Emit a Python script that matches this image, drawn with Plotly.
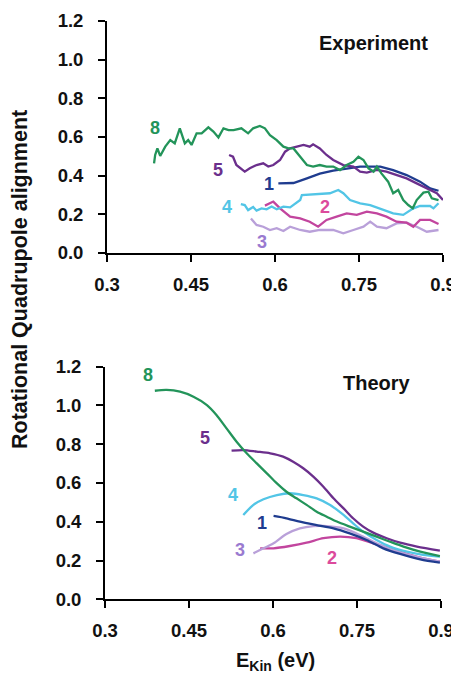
import plotly.graph_objects as go

# ---------------- Experiment data ----------------
exp8_x = [0.384, 0.386, 0.390, 0.395, 0.404, 0.413, 0.421, 0.430, 0.439, 0.445, 0.451, 0.460, 0.469, 0.481,
          0.490, 0.499, 0.508, 0.517, 0.526, 0.540, 0.552, 0.561, 0.573, 0.582, 0.591, 0.603, 0.615, 0.624,
          0.633, 0.645, 0.657, 0.668, 0.680, 0.692, 0.704, 0.716, 0.728, 0.740, 0.749, 0.758, 0.767, 0.776,
          0.782, 0.790, 0.802, 0.811, 0.820, 0.829, 0.838, 0.846, 0.853, 0.865, 0.874, 0.880, 0.892]
exp8_y = [0.464, 0.507, 0.541, 0.502, 0.550, 0.584, 0.567, 0.645, 0.567, 0.584, 0.559, 0.619, 0.619, 0.650,
          0.628, 0.598, 0.645, 0.636, 0.636, 0.645, 0.619, 0.645, 0.657, 0.645, 0.610, 0.584, 0.550, 0.541,
          0.541, 0.498, 0.455, 0.447, 0.455, 0.447, 0.447, 0.429, 0.455, 0.472, 0.498, 0.481, 0.438, 0.421,
          0.447, 0.412, 0.369, 0.309, 0.326, 0.274, 0.248, 0.231, 0.274, 0.312, 0.317, 0.283, 0.274]

exp5_x = [0.518, 0.525, 0.531, 0.546, 0.555, 0.567, 0.579, 0.588, 0.597, 0.609, 0.618, 0.627, 0.639, 0.651,
          0.662, 0.668, 0.680, 0.692, 0.704, 0.722, 0.740, 0.752, 0.764, 0.782, 0.799, 0.817, 0.835, 0.853,
          0.871, 0.889, 0.900]
exp5_y = [0.507, 0.498, 0.455, 0.421, 0.438, 0.455, 0.464, 0.447, 0.455, 0.481, 0.524, 0.541, 0.550, 0.559,
          0.550, 0.562, 0.541, 0.507, 0.481, 0.455, 0.447, 0.421, 0.416, 0.430, 0.421, 0.403, 0.386, 0.360,
          0.334, 0.309, 0.274]

exp1_x = [0.606, 0.633, 0.657, 0.680, 0.704, 0.728, 0.752, 0.788, 0.811, 0.835, 0.859, 0.877, 0.892]
exp1_y = [0.360, 0.362, 0.386, 0.410, 0.426, 0.438, 0.447, 0.447, 0.429, 0.403, 0.369, 0.334, 0.322]

exp4_x = [0.539, 0.546, 0.552, 0.561, 0.567, 0.576, 0.585, 0.594, 0.603, 0.615, 0.627, 0.636, 0.645, 0.648,
          0.662, 0.680, 0.698, 0.713, 0.722, 0.734, 0.752, 0.770, 0.793, 0.811, 0.829, 0.847, 0.859, 0.877,
          0.883, 0.892]
exp4_y = [0.253, 0.248, 0.222, 0.238, 0.219, 0.231, 0.226, 0.240, 0.226, 0.240, 0.236, 0.257, 0.274, 0.300,
          0.303, 0.303, 0.309, 0.326, 0.309, 0.274, 0.257, 0.248, 0.222, 0.205, 0.197, 0.231, 0.243, 0.243,
          0.231, 0.257]

exp2_x = [0.582, 0.597, 0.609, 0.627, 0.645, 0.662, 0.677, 0.692, 0.710, 0.728, 0.746, 0.764, 0.782, 0.799,
          0.817, 0.835, 0.847, 0.859, 0.877, 0.892]
exp2_y = [0.245, 0.266, 0.231, 0.188, 0.179, 0.162, 0.136, 0.171, 0.188, 0.205, 0.197, 0.214, 0.205, 0.188,
          0.162, 0.157, 0.136, 0.171, 0.171, 0.150]

exp3_x = [0.557, 0.567, 0.579, 0.591, 0.603, 0.615, 0.627, 0.645, 0.662, 0.680, 0.704, 0.722, 0.740, 0.758,
          0.770, 0.782, 0.799, 0.817, 0.835, 0.853, 0.871, 0.892]
exp3_y = [0.179, 0.145, 0.136, 0.119, 0.128, 0.114, 0.136, 0.119, 0.110, 0.119, 0.119, 0.102, 0.119, 0.136,
          0.162, 0.136, 0.128, 0.153, 0.157, 0.136, 0.110, 0.119]

# ---------------- Theory data ----------------
th8_x = [0.389, 0.410, 0.434, 0.458, 0.482, 0.499, 0.517, 0.535, 0.553, 0.571, 0.589, 0.607, 0.624, 0.642,
         0.660, 0.678, 0.696, 0.714, 0.737, 0.761, 0.785, 0.809, 0.833, 0.863, 0.898]
th8_y = [1.076, 1.080, 1.071, 1.045, 1.002, 0.951, 0.882, 0.813, 0.753, 0.701, 0.650, 0.598, 0.555, 0.521,
         0.487, 0.452, 0.426, 0.401, 0.375, 0.349, 0.323, 0.297, 0.272, 0.246, 0.223]

th5_x = [0.526, 0.547, 0.571, 0.595, 0.618, 0.636, 0.654, 0.672, 0.690, 0.708, 0.726, 0.743, 0.761, 0.779,
         0.803, 0.827, 0.857, 0.898]
th5_y = [0.767, 0.770, 0.762, 0.753, 0.736, 0.710, 0.676, 0.633, 0.581, 0.521, 0.469, 0.418, 0.375, 0.344,
         0.315, 0.292, 0.272, 0.251]

th4_x = [0.547, 0.565, 0.583, 0.607, 0.630, 0.654, 0.678, 0.702, 0.726, 0.743, 0.761, 0.785, 0.809, 0.839,
         0.868, 0.898]
th4_y = [0.435, 0.487, 0.516, 0.538, 0.547, 0.538, 0.521, 0.487, 0.435, 0.392, 0.349, 0.306, 0.272, 0.246,
         0.229, 0.220]

th1_x = [0.601, 0.624, 0.648, 0.678, 0.708, 0.737, 0.767, 0.797, 0.827, 0.863, 0.898]
th1_y = [0.430, 0.418, 0.401, 0.383, 0.366, 0.340, 0.306, 0.263, 0.234, 0.206, 0.189]

th3_x = [0.565, 0.583, 0.601, 0.624, 0.648, 0.672, 0.696, 0.726, 0.755, 0.785, 0.815, 0.851, 0.898]
th3_y = [0.237, 0.263, 0.289, 0.337, 0.366, 0.378, 0.378, 0.366, 0.332, 0.289, 0.254, 0.223, 0.194]

th2_x = [0.577, 0.601, 0.630, 0.660, 0.690, 0.720, 0.749, 0.779, 0.809, 0.839, 0.868, 0.898]
th2_y = [0.263, 0.263, 0.275, 0.292, 0.315, 0.323, 0.315, 0.289, 0.263, 0.234, 0.211, 0.194]

x_tickvals = [0.3, 0.45, 0.6, 0.75, 0.9]
x_ticktext = ["0.3", "0.45", "0.6", "0.75", "0.9"]
y_tickvals = [0.0, 0.2, 0.4, 0.6, 0.8, 1.0, 1.2]
y_ticktext = ["0.0", "0.2", "0.4", "0.6", "0.8", "1.0", "1.2"]

C_GREEN = "#23945a"
C_PURPLE = "#6b2f8c"
C_BLUE = "#1f3c8f"
C_CYAN = "#52c5e6"
C_MAGENTA = "#c2459e"
C_LAV = "#b9a0d9"
C_LAB2 = "#dc4a9c"
C_LAB3 = "#9a7ad0"

FONT = "Arial, 'Liberation Sans', sans-serif"

fig = go.Figure()

def add(x, y, color, xa, ya, smooth=False):
    fig.add_trace(go.Scatter(
        x=x, y=y, mode="lines", xaxis=xa, yaxis=ya, showlegend=False,
        line=dict(color=color, width=2.3, shape="spline" if smooth else "linear",
                  smoothing=0.8 if smooth else None),
        hoverinfo="skip"))

# experiment (draw back to front)
add(exp3_x, exp3_y, C_LAV, "x", "y")
add(exp2_x, exp2_y, C_MAGENTA, "x", "y")
add(exp4_x, exp4_y, C_CYAN, "x", "y")
add(exp1_x, exp1_y, C_BLUE, "x", "y")
add(exp5_x, exp5_y, C_PURPLE, "x", "y")
add(exp8_x, exp8_y, C_GREEN, "x", "y")

# theory
add(th2_x, th2_y, C_MAGENTA, "x2", "y2", True)
add(th3_x, th3_y, C_LAV, "x2", "y2", True)
add(th1_x, th1_y, C_BLUE, "x2", "y2", True)
add(th4_x, th4_y, C_CYAN, "x2", "y2", True)
add(th5_x, th5_y, C_PURPLE, "x2", "y2", True)
add(th8_x, th8_y, C_GREEN, "x2", "y2", True)

axis_common = dict(
    showgrid=False, zeroline=False, showline=True, linecolor="black", linewidth=1.8,
    ticks="outside", ticklen=7, tickwidth=1.8, tickcolor="black", automargin=False,
    tickfont=dict(family=FONT, size=18.5, color="#111", weight="bold"),
)

# page body has an 8px margin; figure is sized/positioned to compensate
OFF = 8
W, H = 459 - OFF, 675 - OFF

def px(xp):
    return (xp - OFF) / W

def py(yp):
    return (H - (yp - OFF)) / H

fig.update_layout(
    width=W, height=H, margin=dict(l=0, r=0, t=0, b=0),
    plot_bgcolor="white", paper_bgcolor="white", showlegend=False,
    xaxis=dict(domain=[px(107), px(443)], range=[0.3, 0.9], anchor="y",
               tickvals=x_tickvals, ticktext=x_ticktext, ticklabelstandoff=7, **axis_common),
    yaxis=dict(domain=[py(253), py(21)], range=[0, 1.2], anchor="x",
               tickvals=y_tickvals, ticktext=y_ticktext, ticklabelstandoff=11, **axis_common),
    xaxis2=dict(domain=[px(105), px(441)], range=[0.3, 0.9], anchor="y2",
                tickvals=x_tickvals, ticktext=x_ticktext, ticklabelstandoff=7, **axis_common),
    yaxis2=dict(domain=[py(599.3), py(366.7)], range=[0, 1.2], anchor="x2",
                tickvals=y_tickvals, ticktext=y_ticktext, ticklabelstandoff=11, **axis_common),
)

def lab(text, x, y, color, xr, yr, size=18):
    fig.add_annotation(x=x, y=y, xref=xr, yref=yr, text=text, showarrow=False,
                       xanchor="center", yanchor="middle",
                       font=dict(family=FONT, size=size, color=color, weight="bold"))

# experiment labels
lab("8", 0.386, 0.647, C_GREEN, "x", "y")
lab("5", 0.498, 0.430, C_PURPLE, "x", "y")
lab("1", 0.589, 0.357, C_BLUE, "x", "y")
lab("4", 0.514, 0.238, C_CYAN, "x", "y")
lab("2", 0.689, 0.238, C_LAB2, "x", "y")
lab("3", 0.577, 0.057, C_LAB3, "x", "y")
lab("Experiment", 0.776, 1.087, "#111", "x", "y", 20)

# theory labels
lab("8", 0.377, 1.157, C_GREEN, "x2", "y2")
lab("5", 0.479, 0.830, C_PURPLE, "x2", "y2")
lab("4", 0.529, 0.538, C_CYAN, "x2", "y2")
lab("1", 0.580, 0.392, C_BLUE, "x2", "y2")
lab("3", 0.541, 0.254, C_LAB3, "x2", "y2")
lab("2", 0.705, 0.211, C_LAB2, "x2", "y2")
lab("Theory", 0.785, 1.114, "#111", "x2", "y2", 20)

# axis titles
fig.add_annotation(x=px(20), y=py(280), xref="paper", yref="paper",
                   xanchor="center", yanchor="middle",
                   text="Rotational Quadrupole alignment", textangle=-90, showarrow=False,
                   font=dict(family=FONT, size=21.5, color="#111", weight="bold"))
fig.add_annotation(x=px(275), y=py(661), xref="paper", yref="paper",
                   xanchor="center", yanchor="middle",
                   text="E<sub>Kin</sub> (eV)", showarrow=False,
                   font=dict(family=FONT, size=20, color="#111", weight="bold"))

fig.write_html("out.html")
